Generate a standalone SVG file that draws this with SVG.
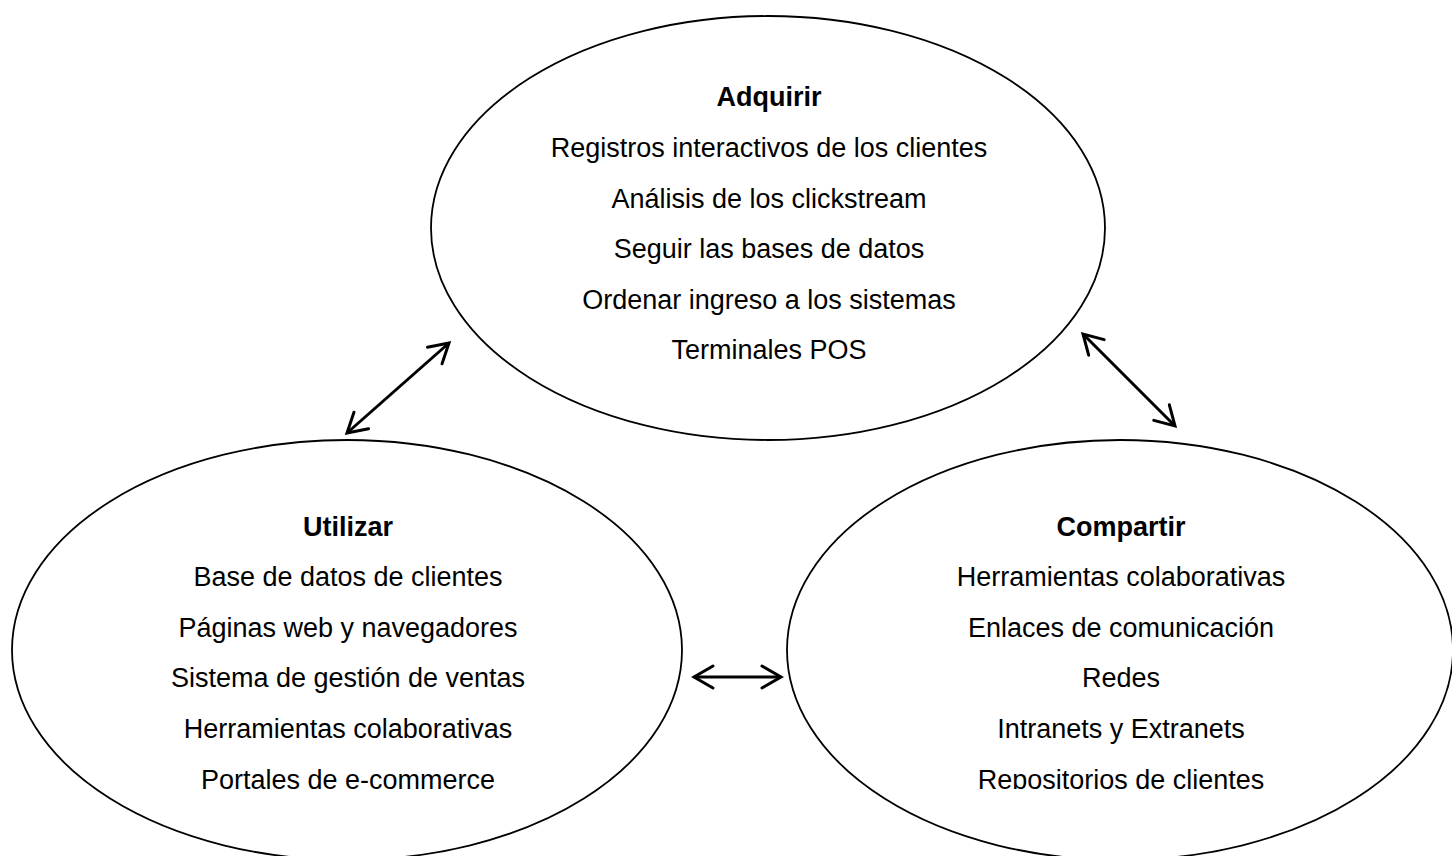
<svg xmlns="http://www.w3.org/2000/svg" width="1452" height="856" viewBox="0 0 1452 856">
  <style>
    .shape { fill: #ffffff; stroke: #000000; stroke-width: 1.8; }
    .t { font-family: "Liberation Sans", Arial, sans-serif; font-size: 27px; fill: #000000; text-anchor: middle; }
    .h { font-weight: bold; }
    .conn { stroke: #000000; stroke-width: 3; fill: none; }
  </style>
  <defs>
    <marker id="arrow" markerUnits="userSpaceOnUse" markerWidth="40" markerHeight="40" viewBox="-25 -20 40 40" refX="0" refY="0" orient="auto-start-reverse" overflow="visible">
      <path d="M -19 -11 L 0 0 L -19 11" fill="none" stroke="#000000" stroke-width="3" stroke-linejoin="miter" stroke-linecap="round"/>
    </marker>
    <clipPath id="bottomClip">
      <rect x="0" y="0" width="1452" height="789"/>
    </clipPath>
  </defs>
  <rect x="0" y="0" width="1452" height="856" fill="#ffffff"/>

  <g id="node-adquirir">
    <ellipse class="shape" cx="768" cy="228" rx="337" ry="212"/>
    <text class="t h" x="769" y="106">Adquirir</text>
    <text class="t" x="769" y="157">Registros interactivos de los clientes</text>
    <text class="t" x="769" y="207.5">Análisis de los clickstream</text>
    <text class="t" x="769" y="258">Seguir las bases de datos</text>
    <text class="t" x="769" y="308.5">Ordenar ingreso a los sistemas</text>
    <text class="t" x="769" y="359">Terminales POS</text>
  </g>

  <g id="node-utilizar">
    <ellipse class="shape" cx="347" cy="650" rx="335" ry="210"/>
    <g clip-path="url(#bottomClip)">
      <text class="t h" x="348" y="536">Utilizar</text>
      <text class="t" x="348" y="586">Base de datos de clientes</text>
      <text class="t" x="348" y="637">Páginas web y navegadores</text>
      <text class="t" x="348" y="687">Sistema de gestión de ventas</text>
      <text class="t" x="348" y="738">Herramientas colaborativas</text>
      <text class="t" x="348" y="789">Portales de e-commerce</text>
    </g>
  </g>

  <g id="node-compartir">
    <ellipse class="shape" cx="1120" cy="650" rx="333" ry="210"/>
    <g clip-path="url(#bottomClip)">
      <text class="t h" x="1121" y="536">Compartir</text>
      <text class="t" x="1121" y="586">Herramientas colaborativas</text>
      <text class="t" x="1121" y="637">Enlaces de comunicación</text>
      <text class="t" x="1121" y="687">Redes</text>
      <text class="t" x="1121" y="738">Intranets y Extranets</text>
      <text class="t" x="1121" y="789">Repositorios de clientes</text>
    </g>
  </g>

  <g id="connectors">
    <line class="conn" x1="347" y1="433" x2="449" y2="343" marker-start="url(#arrow)" marker-end="url(#arrow)"/>
    <line class="conn" x1="1083" y1="334" x2="1175" y2="426" marker-start="url(#arrow)" marker-end="url(#arrow)"/>
    <line class="conn" x1="694" y1="677" x2="781" y2="677" marker-start="url(#arrow)" marker-end="url(#arrow)"/>
  </g>
</svg>
